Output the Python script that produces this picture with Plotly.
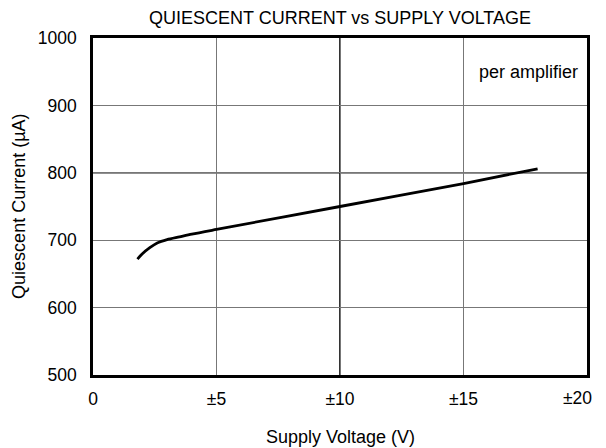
import plotly.graph_objects as go

supply_v = [1.8, 2.0, 2.3, 2.6, 3.0, 3.5, 4.0, 5.0, 10.0, 15.0, 18.0]
quiescent_ua = [672, 680, 689, 696, 701, 705, 709, 716, 750, 784, 806]

x_tickvals = [0, 5, 10, 15, 20]
x_ticktext = ["0", "±5", "±10", "±15", "±20"]
y_tickvals = [500, 600, 700, 800, 900, 1000]

FONT = "Liberation Sans, Arial, sans-serif"
TXT = 18
TICK = 17.5

fig = go.Figure()
fig.add_trace(go.Scatter(
    x=supply_v, y=quiescent_ua, mode="lines",
    line=dict(color="black", width=2.8, shape="spline", smoothing=0.8),
    hoverinfo="skip", showlegend=False,
))

# darker gridlines at x=10 and y=800
fig.add_shape(type="line", xref="x", yref="paper", x0=10, x1=10, y0=0, y1=1,
              line=dict(color="black", width=1.6), layer="below")
fig.add_shape(type="line", xref="paper", yref="y", x0=0, x1=1, y0=800, y1=800,
              line=dict(color="#222", width=1.3), layer="below")

# last x tick label drawn as annotation so it is not clipped at the figure edge
fig.add_annotation(text=x_ticktext[-1], xref="x", yref="paper",
                   x=x_tickvals[-1], y=0, xanchor="right", yanchor="middle",
                   xshift=7, yshift=-23, showarrow=False,
                   font=dict(family=FONT, size=TICK, color="black"))

fig.add_annotation(text="per amplifier", xref="paper", yref="paper",
                   x=0.985, y=0.899, xanchor="right", yanchor="middle",
                   showarrow=False, font=dict(family=FONT, size=TXT, color="black"))
fig.add_annotation(text="Supply Voltage (V)", xref="paper", yref="paper",
                   x=0.5, y=-0.184, xanchor="center", yanchor="middle",
                   showarrow=False, font=dict(family=FONT, size=TXT, color="black"))
fig.add_annotation(text="Quiescent Current (µA)", xref="paper", yref="paper",
                   x=-0.151, y=0.5, xanchor="center", yanchor="middle", textangle=-90,
                   showarrow=False, font=dict(family=FONT, size=TXT, color="black"))

fig.update_layout(
    width=590, height=440,
    margin=dict(l=85, r=8, t=30, b=73),
    paper_bgcolor="white", plot_bgcolor="white",
    title=dict(text="QUIESCENT CURRENT vs SUPPLY VOLTAGE", xref="paper", x=0.5,
               xanchor="center", y=0.977, yanchor="middle",
               font=dict(family=FONT, size=TXT, color="black")),
    font=dict(family=FONT, size=TXT, color="black"),
    xaxis=dict(range=[0, 20], tickvals=x_tickvals[:-1], ticktext=x_ticktext[:-1],
               showgrid=True, gridcolor="#777", gridwidth=1,
               showline=True, linecolor="black", linewidth=2.6, mirror=True,
               ticks="outside", ticklen=6, tickcolor="rgba(0,0,0,0)", zeroline=False,
               tickfont=dict(family=FONT, size=TICK)),
    yaxis=dict(range=[500, 1000], tickvals=y_tickvals,
               showgrid=True, gridcolor="#777", gridwidth=1,
               showline=True, linecolor="black", linewidth=2.6, mirror=True,
               ticks="outside", ticklen=10, tickcolor="rgba(0,0,0,0)", zeroline=False,
               tickfont=dict(family=FONT, size=TICK)),
)

fig.write_html("out.html")
